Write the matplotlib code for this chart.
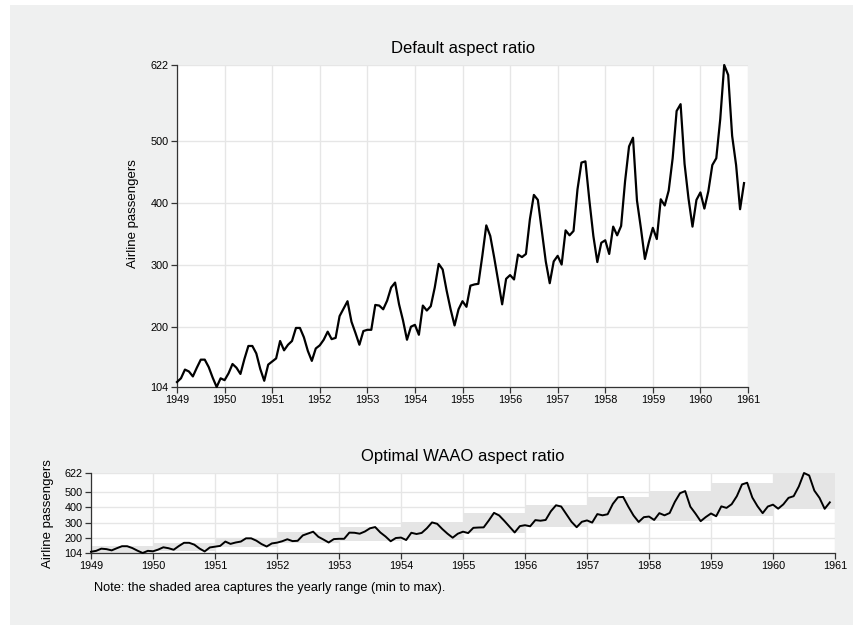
import numpy as np
import matplotlib
matplotlib.use("Agg")
import matplotlib.pyplot as plt
from matplotlib.patches import Rectangle

plt.rcParams['font.family'] = ['Liberation Sans', 'DejaVu Sans']

# monthly airline passengers (thousands), one row per year
years = list(range(1949, 1961))
passengers = [
    [112, 118, 132, 129, 121, 135, 148, 148, 136, 119, 104, 118],
    [115, 126, 141, 135, 125, 149, 170, 170, 158, 133, 114, 140],
    [145, 150, 178, 163, 172, 178, 199, 199, 184, 162, 146, 166],
    [171, 180, 193, 181, 183, 218, 230, 242, 209, 191, 172, 194],
    [196, 196, 236, 235, 229, 243, 264, 272, 237, 211, 180, 201],
    [204, 188, 235, 227, 234, 264, 302, 293, 259, 229, 203, 229],
    [242, 233, 267, 269, 270, 315, 364, 347, 312, 274, 237, 278],
    [284, 277, 317, 313, 318, 374, 413, 405, 355, 306, 271, 306],
    [315, 301, 356, 348, 355, 422, 465, 467, 404, 347, 305, 336],
    [340, 318, 362, 348, 363, 435, 491, 505, 404, 359, 310, 337],
    [360, 342, 406, 396, 420, 472, 548, 559, 463, 407, 362, 405],
    [417, 391, 419, 461, 472, 535, 622, 606, 508, 461, 390, 432],
]
yticks = [104, 200, 300, 400, 500, 622]
xticks = list(range(1949, 1962))

t = np.array([y + m / 12 for y in years for m in range(12)])
vals = np.array([v for row in passengers for v in row])

BG = '#eff0f0'
GRID = '#e6e6e6'
SHADE = '#e5e5e5'

fig = plt.figure(figsize=(8.54, 6.25), dpi=100, facecolor='white')
fig.patches.append(Rectangle((10 / 854, 0), 1, 1 - 5 / 625, transform=fig.transFigure,
                             facecolor=BG, edgecolor='none', zorder=-10))


def style_axes(ax):
    ax.set_facecolor('white')
    ax.set_xlim(1949, 1961)
    ax.set_ylim(104, 622)
    ax.set_xticks(xticks)
    ax.set_yticks(yticks)
    ax.grid(True, color=GRID, linewidth=1)
    ax.set_axisbelow(True)
    for s in ('top', 'right'):
        ax.spines[s].set_visible(False)
    for s in ('left', 'bottom'):
        ax.spines[s].set_color('#333333')
        ax.spines[s].set_linewidth(0.9)
    ax.tick_params(labelsize=7.8, length=4, width=0.9, color='#333333', pad=2)


# default aspect ratio
ax1 = fig.add_axes([177 / 854, 1 - 387 / 625, (748 - 177) / 854, (387 - 65) / 625])
style_axes(ax1)
ax1.plot(t, vals, color='black', linewidth=1.6, clip_on=False, zorder=3)
fig.text(463 / 854, 1 - 48 / 625, 'Default aspect ratio', ha='center', va='center', fontsize=12)
fig.text(133 / 854, 1 - 214 / 625, 'Airline passengers', ha='center', va='center',
         rotation=90, fontsize=9.5)

# banked aspect ratio with yearly min-max band
ax2 = fig.add_axes([91 / 854, 1 - 553 / 625, (835 - 91) / 854, (553 - 473) / 625])
style_axes(ax2)
for y, row in zip(years, passengers):
    ax2.fill_between([y, y + 1], min(row), max(row), color=SHADE, linewidth=0, zorder=2)
ax2.plot(t, vals, color='black', linewidth=1.4, clip_on=False, zorder=3)
fig.text(463 / 854, 1 - 457 / 625, 'Optimal WAAO aspect ratio', ha='center', va='center', fontsize=12)
fig.text(48 / 854, 1 - 514 / 625, 'Airline passengers', ha='center', va='center',
         rotation=90, fontsize=9.5)

fig.text(94 / 854, 1 - 588 / 625, 'Note: the shaded area captures the yearly range (min to max).',
         ha='left', va='center', fontsize=9.2)

fig.savefig('out.png', dpi=100, facecolor=fig.get_facecolor())
